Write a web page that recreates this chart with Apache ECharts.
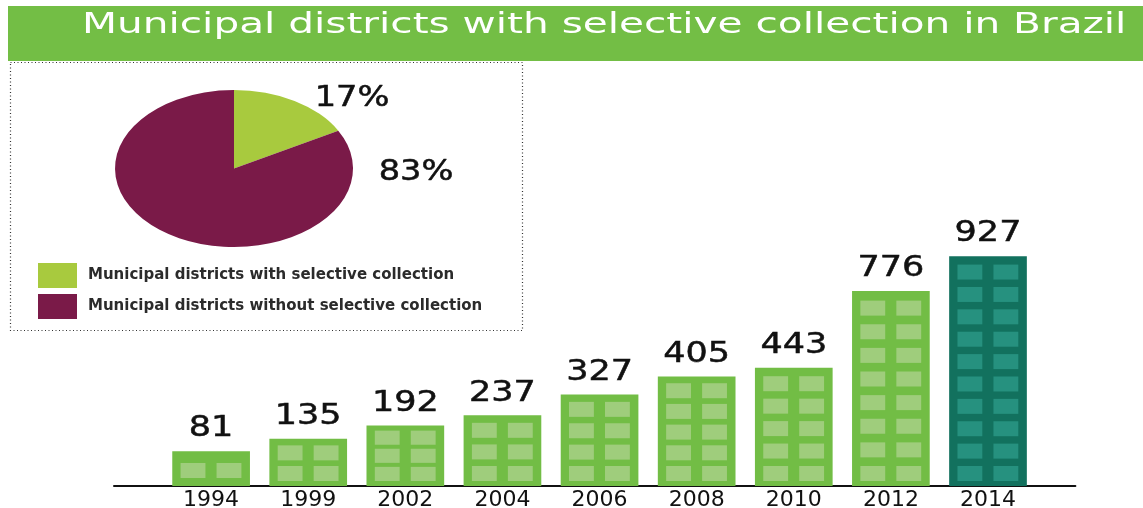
<!DOCTYPE html>
<html>
<head>
<meta charset="utf-8">
<script src="https://cdn.jsdelivr.net/npm/echarts@6/dist/echarts.min.js"></script>
<style>
  html, body { margin: 0; padding: 0; background: #ffffff; }
  #chart { width: 1143px; height: 508px; }
</style>
</head>
<body>
<div id="chart"></div>
<script>
// Municipal districts with selective collection, by survey year
const years = ['1994', '1999', '2002', '2004', '2006', '2008', '2010', '2012', '2014'];
const districtCounts = [81, 135, 192, 237, 327, 405, 443, 776, 927];

// Share of all municipal districts (%)
const sliceNames = [
  'Municipal districts with selective collection',
  'Municipal districts without selective collection'
];
const sliceShares = [17, 83];

const titleText = 'Municipal districts with selective collection in Brazil';

// ---- styling ----
const FONT = '"DejaVu Sans", sans-serif';
const Y_MIN = -70;
const Y_MAX = 930;
const sliceColors = ['#A8CA3E', '#7A1A48'];
const pie = { cx: 234, cy: 168.5, rx: 119, ry: 78.5 };
const pieLabelOffsets = [[118, -70], [182, 4]];

function renderBuilding(params, api) {
  const i = api.value(0);
  const v = api.value(1);
  const top = api.coord([i, v]);
  const base = api.coord([i, Y_MIN]);
  const w = api.size([1, 0])[0] * 0.8;
  const x0 = top[0] - w / 2;
  const h = base[1] - top[1];
  const latest = i === districtCounts.length - 1;
  const body = latest ? '#12715E' : '#72BD45';
  const pane = latest ? '#26917F' : '#9FCD7C';

  const children = [{
    type: 'rect',
    shape: { x: x0, y: top[1], width: w, height: h },
    style: { fill: body }
  }];

  // windows: two columns, rows fitted to the building height
  const rows = Math.max(1, Math.round((h - 8) / (20 + h * 0.012)));
  const pitch = (h - 6) / rows;
  const paneH = Math.min(15, pitch - 4);
  const paneW = w * 0.32;
  const lift = rows === 1 ? 3 : 0;
  for (let r = 0; r < rows; r++) {
    const bottom = base[1] - 5 - lift - r * pitch;
    [0.107, 0.57].forEach(function (fx) {
      children.push({
        type: 'rect',
        shape: { x: x0 + w * fx, y: bottom - paneH, width: paneW, height: paneH },
        style: { fill: pane }
      });
    });
  }

  children.push({
    type: 'text',
    x: top[0],
    y: top[1] - 22,
    scaleX: 1.25,
    style: {
      text: String(v),
      fontFamily: FONT,
      fontSize: 28,
      fill: '#111111',
      stroke: '#111111',
      lineWidth: 0.5,
      align: 'center',
      verticalAlign: 'middle'
    }
  });
  return { type: 'group', children: children };
}

function pieSlice(k) {
  const total = sliceShares.reduce(function (a, b) { return a + b; }, 0);
  const before = sliceShares.slice(0, k).reduce(function (a, b) { return a + b; }, 0);
  return {
    type: 'custom',
    name: sliceNames[k],
    coordinateSystem: 'none',
    itemStyle: { color: sliceColors[k] },
    data: [[sliceShares[k]]],
    renderItem: function (params, api) {
      const share = api.value(0);
      const a0 = -Math.PI / 2 + before / total * 2 * Math.PI;
      const a1 = a0 + share / total * 2 * Math.PI;
      const off = pieLabelOffsets[k];
      return {
        type: 'group',
        children: [{
          type: 'sector',
          x: pie.cx,
          y: pie.cy,
          scaleY: pie.ry / pie.rx,
          shape: { cx: 0, cy: 0, r: pie.rx, r0: 0, startAngle: a0, endAngle: a1, clockwise: true },
          style: { fill: sliceColors[k] }
        }, {
          type: 'text',
          x: pie.cx + off[0],
          y: pie.cy + off[1],
          scaleX: 1.2,
          style: {
            text: share + '%',
            fontFamily: FONT,
            fontSize: 28,
            fill: '#111111',
            stroke: '#111111',
            lineWidth: 0.5,
            align: 'center',
            verticalAlign: 'middle'
          }
        }]
      };
    }
  };
}

const chart = echarts.init(document.getElementById('chart'), null, { renderer: 'canvas' });

chart.setOption({
  animation: false,
  backgroundColor: '#ffffff',
  graphic: [
    {
      type: 'rect', z: 0,
      shape: { x: 8, y: 6, width: 1135, height: 55 },
      style: { fill: '#73BE45' }
    },
    {
      type: 'text', z: 5,
      x: 82, y: 26, scaleX: 1.45,
      style: {
        text: titleText, fontFamily: FONT, fontSize: 28,
        fill: '#ffffff', align: 'left', verticalAlign: 'middle'
      }
    },
    {
      type: 'rect', z: 0,
      shape: { x: 10.5, y: 62.5, width: 512, height: 268 },
      style: { fill: 'none', stroke: '#333333', lineWidth: 1.2, lineDash: [1, 2.5] }
    }
  ],
  legend: {
    data: sliceNames,
    orient: 'vertical',
    left: 33,
    top: 258,
    icon: 'rect',
    itemWidth: 39,
    itemHeight: 25,
    itemGap: 6,
    selectedMode: false,
    textStyle: {
      fontFamily: FONT, fontWeight: 'bold', fontSize: 15,
      color: '#2b2b2b', padding: [0, 0, 0, 6]
    }
  },
  grid: {
    left: 114, right: 67.6, top: 255.5, bottom: 22,
    outerBoundsMode: 'none'
  },
  xAxis: {
    type: 'value',
    min: -1, max: 8.9, interval: 1,
    axisLine: { onZero: false, lineStyle: { color: '#111111', width: 2 } },
    axisTick: { show: false },
    splitLine: { show: false },
    axisLabel: {
      margin: 3,
      fontFamily: FONT, fontSize: 22, color: '#111111',
      formatter: function (v) { return years[v] !== undefined ? years[v] : ''; }
    }
  },
  yAxis: {
    type: 'value', min: Y_MIN, max: Y_MAX, show: false
  },
  series: [
    pieSlice(0),
    pieSlice(1),
    {
      type: 'custom',
      name: 'districts',
      clip: false,
      renderItem: renderBuilding,
      encode: { x: 0, y: 1 },
      data: districtCounts.map(function (v, i) { return [i, v]; })
    }
  ]
});
</script>
</body>
</html>
